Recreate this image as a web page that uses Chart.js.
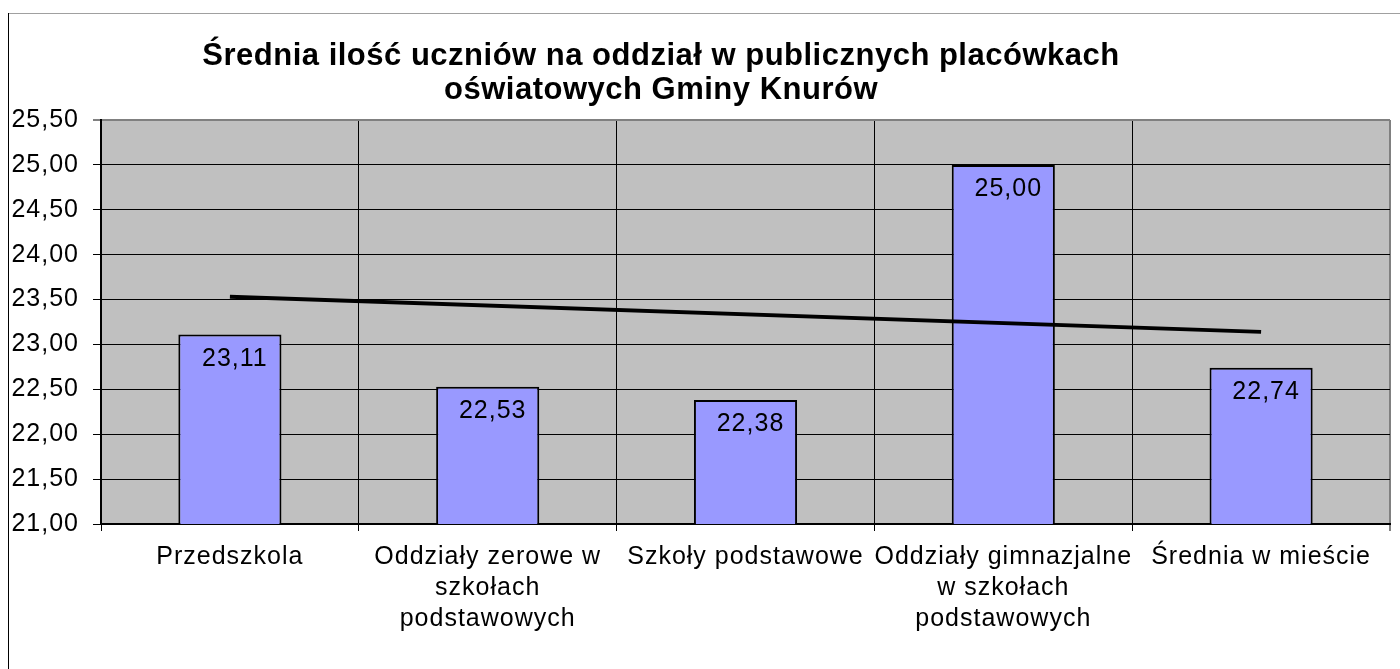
<!DOCTYPE html>
<html>
<head>
<meta charset="utf-8">
<script src="https://cdn.jsdelivr.net/npm/chart.js@4.4.0/dist/chart.umd.min.js"></script>
<style>
  html, body { margin: 0; padding: 0; background: #fff; }
  #chart { display: block; }
</style>
</head>
<body>
<canvas id="chart" width="1400" height="669"></canvas>
<script>
// chart data
const categories = [
    ['Przedszkola'],
    ['Oddziały zerowe w', 'szkołach', 'podstawowych'],
    ['Szkoły podstawowe'],
    ['Oddziały gimnazjalne', 'w szkołach', 'podstawowych'],
    ['Średnia w mieście']
];
const averages = [23.11, 22.53, 22.38, 25.00, 22.74];
// trend line, read at both ends only
const trendValues = [23.53, null, null, null, 23.14];
const titleLines = [
    'Średnia ilość uczniów na oddział w publicznych placówkach',
    'oświatowych Gminy Knurów'
];
const yMin = 21;
const yMax = 25.5;
const yStep = 0.5;

const FONT = "'Liberation Sans', Arial, sans-serif";
Chart.defaults.font.family = FONT;
Chart.defaults.color = '#000';

const fmt = v => v.toFixed(2).replace('.', ',');

// grey plot background + outer frame
const backgroundPlugin = {
    id: 'plotBackground',
    beforeDraw(chart) {
        const { ctx, chartArea } = chart;
        // the original text is set a bit wider than plain Arial
        ctx.letterSpacing = '1px';
        ctx.save();
        ctx.fillStyle = '#c0c0c0';
        ctx.fillRect(chartArea.left, chartArea.top, chartArea.right - chartArea.left, chartArea.bottom - chartArea.top);
        ctx.lineWidth = 1;
        ctx.strokeStyle = '#a0a0a0';
        ctx.beginPath();
        ctx.moveTo(8, 13.5);
        ctx.lineTo(1400, 13.5);
        ctx.stroke();
        ctx.strokeStyle = '#000';
        ctx.beginPath();
        ctx.moveTo(8.5, 13);
        ctx.lineTo(8.5, 669);
        ctx.stroke();
        ctx.restore();
    }
};

// title drawn by hand so it can sit off-centre like the original
const titlePlugin = {
    id: 'offsetTitle',
    afterDraw(chart) {
        const ctx = chart.ctx;
        ctx.save();
        ctx.font = 'bold 31px ' + FONT;
        ctx.letterSpacing = '0.5px';
        ctx.fillStyle = '#000';
        ctx.textAlign = 'center';
        ctx.textBaseline = 'alphabetic';
        ctx.fillText(titleLines[0], 661, 65);
        ctx.fillText(titleLines[1], 661, 99);
        ctx.restore();
    }
};

// value labels inside the top of each bar
const barLabelPlugin = {
    id: 'barLabels',
    afterDatasetsDraw(chart) {
        const ctx = chart.ctx;
        const meta = chart.getDatasetMeta(1);
        ctx.save();
        ctx.font = '25px ' + FONT;
        ctx.letterSpacing = '1px';
        ctx.fillStyle = '#000';
        ctx.textAlign = 'center';
        ctx.textBaseline = 'alphabetic';
        meta.data.forEach((bar, i) => {
            ctx.fillText(fmt(averages[i]), bar.x + 5, bar.y + 31);
        });
        ctx.restore();
    }
};

new Chart(document.getElementById('chart'), {
    data: {
        labels: categories,
        datasets: [
            {
                type: 'line',
                label: 'Trend',
                data: trendValues,
                borderColor: '#000',
                borderWidth: 4,
                pointRadius: 0,
                spanGaps: true,
                tension: 0,
                order: 0
            },
            {
                type: 'bar',
                label: 'Średnia',
                data: averages,
                backgroundColor: '#9999ff',
                borderColor: '#000',
                borderWidth: 2,
                borderSkipped: false,
                barPercentage: 0.4,
                categoryPercentage: 1,
                order: 1
            }
        ]
    },
    options: {
        responsive: false,
        animation: false,
        layout: { padding: { top: 120, right: 10, left: 0, bottom: 0 } },
        plugins: {
            legend: { display: false },
            title: { display: false },
            tooltip: { enabled: false }
        },
        scales: {
            x: {
                offset: true,
                grid: {
                    offset: true,
                    color: ctx => ctx.type === 'scale' ? '#808080' : '#000',
                    lineWidth: ctx => ctx.type === 'scale' ? 2 : 1,
                    tickLength: 7
                },
                border: { color: '#000', width: 2 },
                ticks: {
                    font: { size: 25, lineHeight: 1.25 },
                    color: '#000',
                    padding: 10,
                    maxRotation: 0,
                    autoSkip: false
                },
                afterFit(scale) { scale.height = 145; }
            },
            y: {
                min: yMin,
                max: yMax,
                grid: {
                    color: ctx => ctx.tick && ctx.tick.value === yMax ? '#808080' : '#000',
                    lineWidth: ctx => ctx.tick && ctx.tick.value === yMax ? 2 : 1,
                    tickLength: 8
                },
                border: { color: '#000', width: 2 },
                ticks: {
                    stepSize: yStep,
                    font: { size: 25 },
                    color: '#000',
                    padding: 14,
                    callback: v => fmt(v)
                },
                afterFit(scale) { scale.width = 101; }
            }
        }
    },
    plugins: [backgroundPlugin, titlePlugin, barLabelPlugin]
});
</script>
</body>
</html>
